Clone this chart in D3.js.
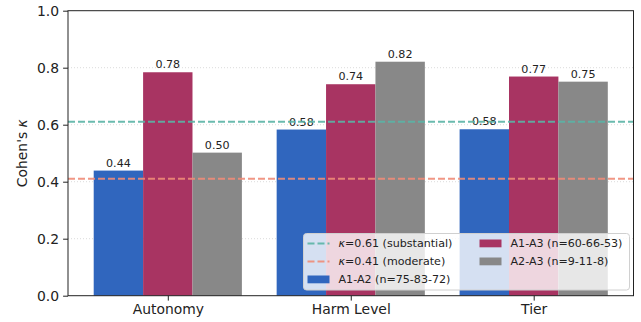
<!DOCTYPE html>
<html><head><meta charset="utf-8">
<script src="https://cdn.jsdelivr.net/npm/d3@7"></script>
<style>
body{margin:0;background:#fff;}
text{font-family:"DejaVu Sans",sans-serif;fill:#222;}
</style></head>
<body><svg id="c" width="641" height="322"></svg>
<script>
const categories = ["Autonomy", "Harm Level", "Tier"];
const seriesNames = ["A1-A2 (n=75-83-72)", "A1-A3 (n=60-66-53)", "A2-A3 (n=9-11-8)"];
const a1a2 = [0.439, 0.583, 0.584];
const a1a3 = [0.784, 0.742, 0.769];
const a2a3 = [0.502, 0.821, 0.751];
const seriesColors = ["#3066be", "#a83462", "#888888"];
const refValues = [0.61, 0.41];
const refLabels = ["=0.61 (substantial)", "=0.41 (moderate)"];
const refColors = ["#5ab4a6", "#f08c78"];
const yTicks = [0, 0.2, 0.4, 0.6, 0.8, 1.0];

const series = [a1a2, a1a3, a2a3];
const svg = d3.select("#c");
const L = 68, R = 633.5, T = 10.7, B = 295.7;
const barW = 0.27;
const x = d3.scaleLinear().domain([-0.5455, 2.5455]).range([L, R]);
const y = d3.scaleLinear().domain([0, 1]).range([B, T]);

// grid
svg.append("g").selectAll("line").data(yTicks.filter(d => d > 0 && d < 1)).join("line")
  .attr("x1", L).attr("x2", R).attr("y1", d => y(d)).attr("y2", d => y(d))
  .attr("stroke", "#c8c8c8").attr("stroke-width", 0.8).attr("stroke-dasharray", "1,2").attr("opacity", 0.8);

// bars
series.forEach((vals, si) => {
  const off = (si - 1) * barW;
  const g = svg.append("g");
  g.selectAll("rect").data(vals).join("rect")
    .attr("x", (d, i) => x(i + off - barW / 2)).attr("width", x(barW) - x(0))
    .attr("y", d => y(d)).attr("height", d => y(0) - y(d))
    .attr("fill", seriesColors[si]);
  g.selectAll("text").data(vals).join("text")
    .attr("x", (d, i) => x(i + off)).attr("y", d => y(d) - 4)
    .attr("text-anchor", "middle").attr("font-size", 11.1)
    .text(d => d.toFixed(2));
});

// reference lines
refValues.forEach((v, i) => {
  svg.append("line").attr("x1", L).attr("x2", R).attr("y1", y(v)).attr("y2", y(v))
    .attr("stroke", refColors[i]).attr("stroke-width", 2).attr("stroke-dasharray", "7,3").attr("opacity", 0.9);
});

// axes
const yAxis = d3.axisLeft(y).tickValues(yTicks).tickFormat(d3.format(".1f")).tickSize(4.9).tickPadding(4);
const gy = svg.append("g").attr("transform", `translate(${L},0)`).call(yAxis);
gy.selectAll("text").attr("font-size", 13.9).attr("font-family", "DejaVu Sans").attr("fill", "#222");
gy.select(".domain").remove();
gy.selectAll(".tick line").attr("stroke", "#222");

const xAxis = d3.axisBottom(x).tickValues([0, 1, 2]).tickFormat(i => categories[i]).tickSize(4.9).tickPadding(4);
const gx = svg.append("g").attr("transform", `translate(0,${B})`).call(xAxis);
gx.selectAll("text").attr("font-size", 13.9).attr("font-family", "DejaVu Sans").attr("fill", "#222");
gx.select(".domain").remove();
gx.selectAll(".tick line").attr("stroke", "#222");

// spines
svg.append("rect").attr("x", L).attr("y", T).attr("width", R - L).attr("height", B - T)
  .attr("fill", "none").attr("stroke", "#222").attr("stroke-width", 1);

// y label
const yl = svg.append("text").attr("transform", `translate(27,${(T + B) / 2}) rotate(-90)`)
  .attr("text-anchor", "middle").attr("font-size", 13.9);
yl.append("tspan").text("Cohen's ");
yl.append("tspan").attr("font-style", "italic").text("κ");

// legend
const lg = svg.append("g");
lg.append("rect").attr("x", 303.5).attr("y", 233.5).attr("width", 326).attr("height", 56.5)
  .attr("rx", 3).attr("fill", "#fff").attr("fill-opacity", 0.8).attr("stroke", "#d0d0d0");
const rowsY = [243.5, 261.5, 279.5];
const items = [
  {type: "line", color: refColors[0], label: refLabels[0], kappa: true, col: 0, row: 0},
  {type: "line", color: refColors[1], label: refLabels[1], kappa: true, col: 0, row: 1},
  {type: "rect", color: seriesColors[0], label: seriesNames[0], col: 0, row: 2},
  {type: "rect", color: seriesColors[1], label: seriesNames[1], col: 1, row: 0},
  {type: "rect", color: seriesColors[2], label: seriesNames[2], col: 1, row: 1}
];
const colX = [307.5, 479.5];
items.forEach(it => {
  const hx = colX[it.col], cy = rowsY[it.row];
  if (it.type === "line") {
    lg.append("line").attr("x1", hx).attr("x2", hx + 22).attr("y1", cy).attr("y2", cy)
      .attr("stroke", it.color).attr("stroke-width", 2).attr("stroke-dasharray", "7,3").attr("opacity", 0.9);
  } else {
    lg.append("rect").attr("x", hx).attr("y", cy - 4).attr("width", 22).attr("height", 7.8).attr("fill", it.color);
  }
  const t = lg.append("text").attr("x", hx + 31).attr("y", cy).attr("dy", "0.35em").attr("font-size", 11.1);
  if (it.kappa) t.append("tspan").attr("font-style", "italic").text("κ");
  t.append("tspan").text(it.label);
});
</script></body></html>
